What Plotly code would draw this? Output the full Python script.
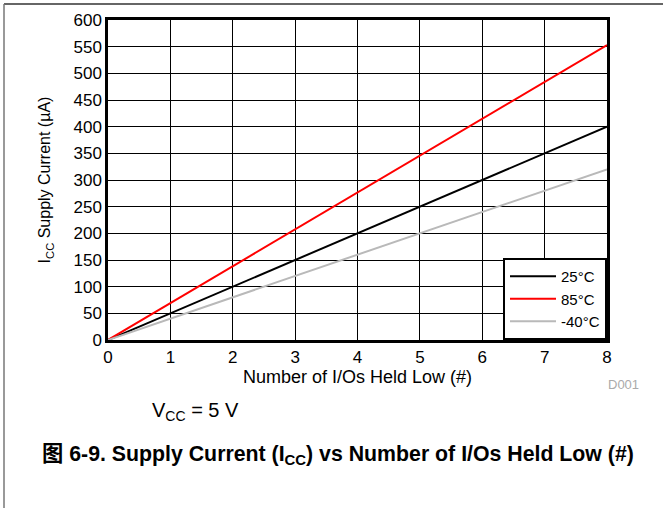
import plotly.graph_objects as go

ios = [0, 1, 2, 3, 4, 5, 6, 7, 8]
icc_25c = [0, 50, 100, 150, 200, 250, 300, 350, 400]
icc_85c = [0, 69, 138, 207, 276, 345, 415, 484, 553]
icc_m40c = [0, 40, 80, 120, 160, 200, 240, 280, 320]

series = [
    ("25°C", icc_25c, "#000000"),
    ("85°C", icc_85c, "#ff0000"),
    ("-40°C", icc_m40c, "#b9b9b9"),
]

FONT = "Liberation Sans, Arial, sans-serif"
W, H = 663, 508
L, R, T, B = 108, 607, 20, 340

fig = go.Figure()
for name, vals, col in series:
    fig.add_trace(go.Scatter(x=ios, y=vals, mode="lines", name=name,
                             line=dict(color=col, width=2)))

def px(x):
    return (x - L) / (R - L)

def py(y):
    return (B - y) / (B - T)

fig.update_layout(
    width=W, height=H,
    margin=dict(l=L, r=W - R, t=T, b=H - B, autoexpand=False),
    paper_bgcolor="white", plot_bgcolor="white",
    font=dict(family=FONT, size=17, color="#000000"),
    showlegend=True,
    legend=dict(x=1, y=0, xanchor="right", yanchor="bottom",
                bgcolor="white", bordercolor="black", borderwidth=2,
                font=dict(size=15, family=FONT), tracegroupgap=0,
                itemwidth=46),
    xaxis=dict(range=[0, 8], dtick=1, tick0=0, showgrid=True,
               gridcolor="#000000", gridwidth=1, zeroline=False,
               showline=True, linecolor="black", linewidth=2.5, mirror=True,
               ticks="", tickfont=dict(size=17),
               title=dict(text="Number of I/Os Held Low (#)", font=dict(size=18), standoff=0)),
    yaxis=dict(range=[0, 600], dtick=50, tick0=0, showgrid=True,
               gridcolor="#000000", gridwidth=1, zeroline=False,
               showline=True, linecolor="black", linewidth=2.5, mirror=True,
               ticks="", tickfont=dict(size=17),
               title=dict(text="I<sub>CC</sub> Supply Current (µA)", font=dict(size=16), standoff=19)),
    shapes=[
        dict(type="line", xref="paper", yref="paper",
             x0=px(4), x1=px(663), y0=py(4), y1=py(4),
             line=dict(color="#333333", width=1.5)),
        dict(type="line", xref="paper", yref="paper",
             x0=px(4), x1=px(4), y0=py(4), y1=py(508),
             line=dict(color="#777777", width=1.5)),
    ],
    annotations=[
        dict(text="D001", xref="paper", yref="paper", x=px(641), y=py(384),
             xanchor="right", yanchor="middle", showarrow=False,
             font=dict(size=13, color="#aaaaaa", family=FONT)),
        dict(text="V<sub>CC</sub> = 5 V", xref="paper", yref="paper", x=px(150), y=py(411),
             xanchor="left", yanchor="middle", showarrow=False,
             font=dict(size=20, color="#000000", family=FONT)),
        dict(text="<b>图 6-9. Supply Current (I<sub>CC</sub>) vs Number of I/Os Held Low (#)</b>",
             xref="paper", yref="paper", x=px(40), y=py(455),
             xanchor="left", yanchor="middle", showarrow=False,
             font=dict(size=21.3, color="#000000", family=FONT + ", Noto Sans CJK SC")),
    ],
)

fig.write_html("out.html", config={"displayModeBar": False},
               post_script="document.body.style.margin='0px';")
